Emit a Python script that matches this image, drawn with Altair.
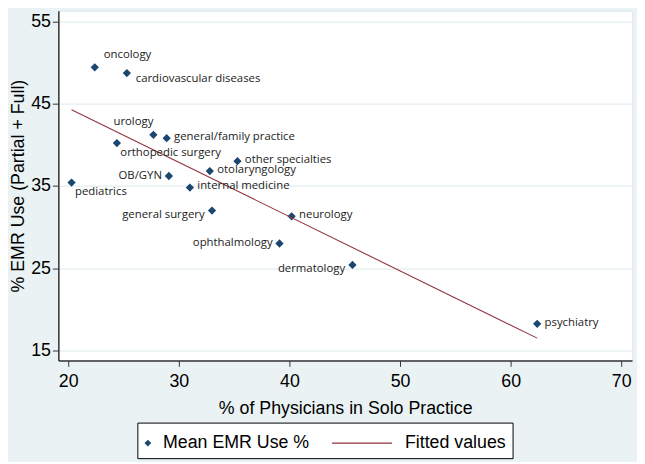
import altair as alt
import pandas as pd

specialty = [
    "oncology", "cardiovascular diseases", "urology", "general/family practice",
    "orthopedic surgery", "other specialties", "otolaryngology", "OB/GYN",
    "pediatrics", "internal medicine", "general surgery", "neurology",
    "ophthalmology", "dermatology", "psychiatry",
]
solo_pct = [22.4, 25.3, 27.7, 28.9, 24.4, 35.3, 32.8, 29.1, 20.3, 31.0, 33.0, 40.2, 39.1, 45.7, 62.4]
emr_use = [49.4, 48.7, 41.2, 40.8, 40.2, 38.0, 36.8, 36.2, 35.4, 34.8, 32.0, 31.3, 28.0, 25.4, 18.25]
# marker-label clock positions (as in Stata's mlabvposition)
label_clock = [1, 4, 11, 3, 5, 3, 3, 9, 5, 3, 8, 3, 9, 8, 3]

x_ticks = [20, 30, 40, 50, 60, 70]
y_ticks = [15, 25, 35, 45, 55]
legend_names = ["Mean EMR Use %", "Fitted values"]

BLUE = "#1a476f"
RED = "#90353b"
BG = "#eaf2f3"
GRID = "#dce9ec"

df = pd.DataFrame({
    "specialty": specialty,
    "solo": solo_pct,
    "emr": emr_use,
    "clock": label_clock,
})
df_leg = pd.DataFrame({"series": legend_names})

x_scale = alt.Scale(domain=[19.107, 70.98], nice=False, zero=False)
y_scale = alt.Scale(domain=[13.80, 56.26], nice=False, zero=False)

x_enc = alt.X("solo:Q", scale=x_scale, axis=alt.Axis(
    values=x_ticks, title="% of Physicians in Solo Practice", grid=False,
    labelPadding=6, titlePadding=10))
y_enc = alt.Y("emr:Q", scale=y_scale, axis=alt.Axis(
    values=y_ticks, title="% EMR Use (Partial + Full)", grid=True,
    gridColor=GRID, gridWidth=1, labelPadding=2, titlePadding=3))

# legend symbols: small diamond, and a thin bar drawn as the line sample
diamond_leg = "M-0.92,0L-0.68,-0.24L-0.44,0L-0.68,0.24Z"
line_leg = "M-4.72,-0.04H-0.52V0.04H-4.72Z"

leg = alt.Legend(
    title=None, orient="none", legendX=80, legendY=417, direction="horizontal",
    columns=2, strokeColor="black", fillColor="white", padding=6, columnPadding=22,
    labelFont="Liberation Sans", labelFontSize=18, labelColor="black",
    labelOffset={"expr": "-9"}, symbolStrokeWidth=0, symbolOpacity=1, symbolSize=841,
)

base = alt.Chart(df)

points = base.mark_point(filled=True, opacity=1, shape="diamond", size=70, color=BLUE).encode(
    x=x_enc, y=y_enc,
)

legend_layer = alt.Chart(df_leg).mark_point(filled=True, opacity=1, size=841, clip=True).encode(
    x=alt.value(-200), y=alt.value(-200),
    color=alt.Color("series:N", scale=alt.Scale(domain=legend_names, range=[BLUE, RED]), legend=leg),
    shape=alt.Shape("series:N", scale=alt.Scale(domain=legend_names, range=[diamond_leg, line_leg]), legend=leg),
)

fit = base.transform_regression("solo", "emr").mark_line(color=RED, strokeWidth=1.1).encode(
    x="solo:Q", y="emr:Q"
)

placements = {
    1: dict(align="left", baseline="middle", dx=9, dy=-12),
    3: dict(align="left", baseline="middle", dx=7.5, dy=-1),
    4: dict(align="left", baseline="middle", dx=9, dy=6),
    5: dict(align="left", baseline="middle", dx=3.5, dy=10),
    8: dict(align="right", baseline="middle", dx=-7.5, dy=4.5),
    9: dict(align="right", baseline="middle", dx=-7, dy=0),
    11: dict(align="right", baseline="middle", dx=0, dy=-12.5),
}

texts = []
for c, p in placements.items():
    texts.append(
        base.transform_filter(alt.datum.clock == c).mark_text(
            font="Open Sans", fontSize=11.5, color="#222222", **p
        ).encode(x="solo:Q", y="emr:Q", text="specialty:N")
    )

chart = alt.layer(points, fit, *texts, legend_layer).properties(
    width=581, height=354, autosize="none",
    padding={"left": 51, "top": 0, "right": 5, "bottom": 100},
).configure(background=BG).configure_view(
    fill="white", stroke=GRID
).configure_axis(
    domainColor="#333333", domainWidth=1.5, tickColor="#333333", tickSize=6,
    labelFont="Liberation Sans", labelFontSize=18, labelColor="black",
    titleFont="Liberation Sans", titleFontSize=18, titleFontWeight="normal", titleColor="black",
)

chart.save("out.html", embed_options={"renderer": "svg", "actions": False})
